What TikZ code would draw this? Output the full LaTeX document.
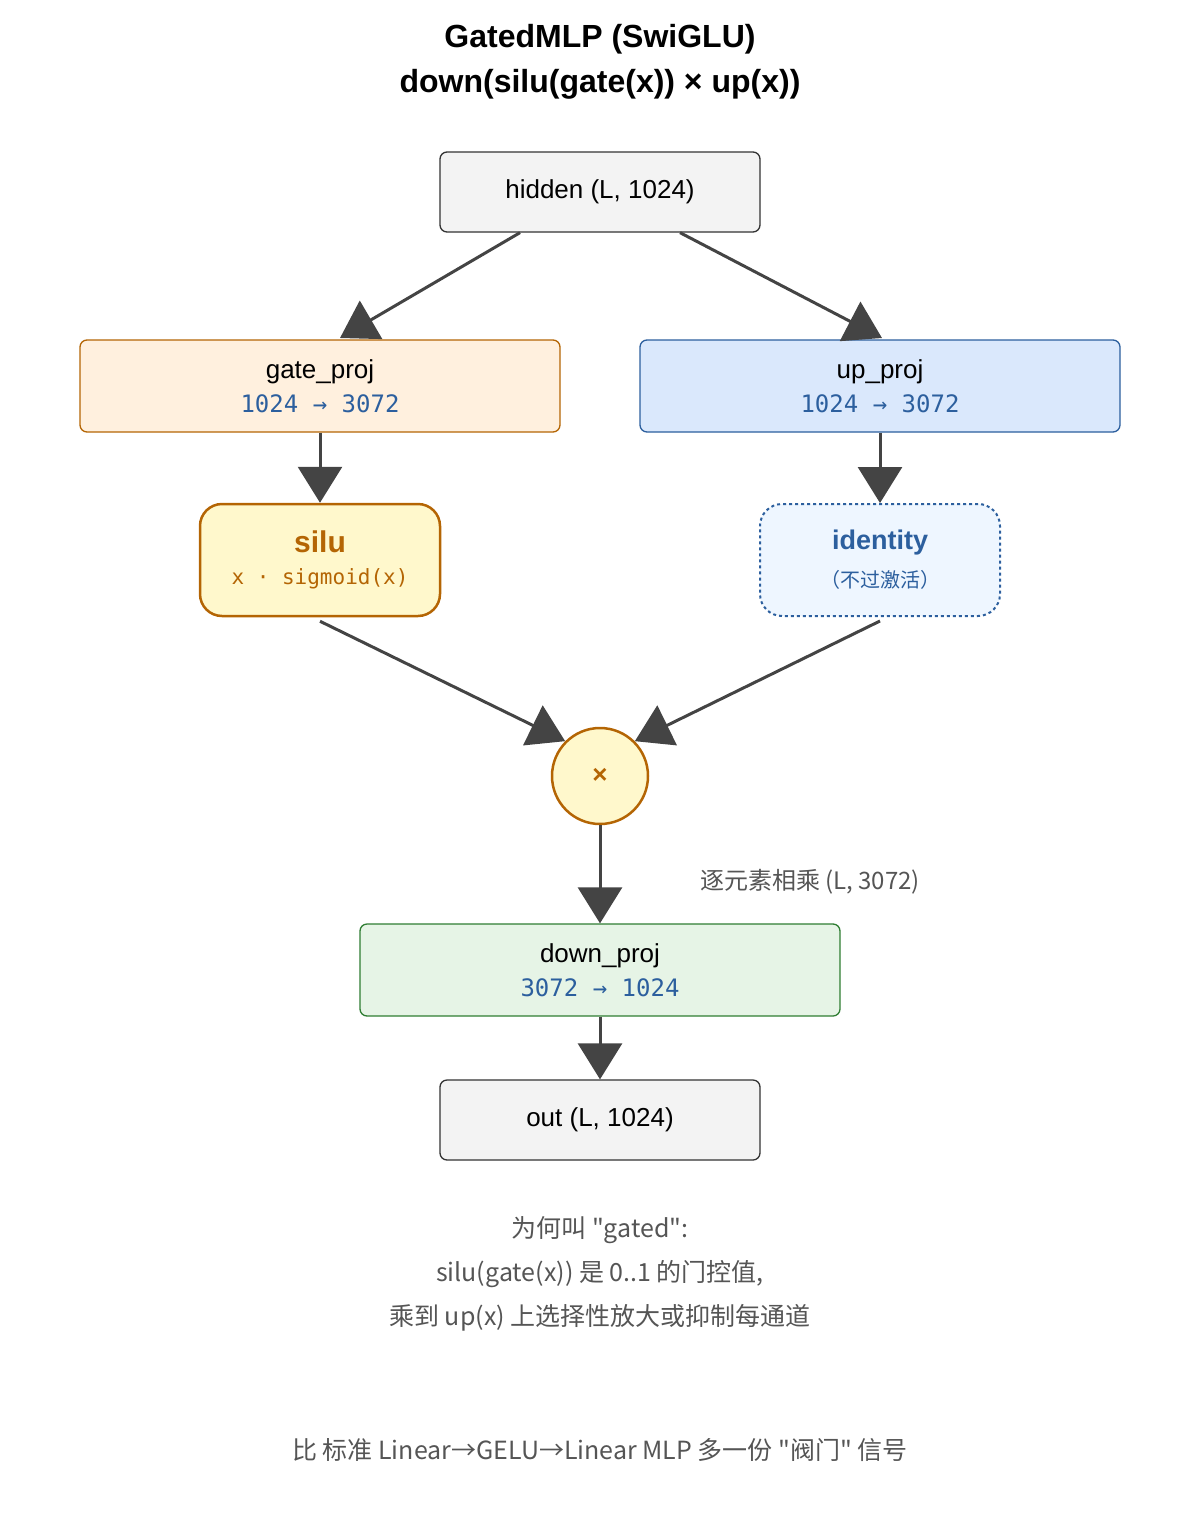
\documentclass[tikz,border=0pt]{standalone}
\usepackage{fontspec}
\setmainfont{Liberation Sans}
\setmonofont{DejaVu Sans Mono}
\newfontfamily\cjk{Noto Sans CJK SC}
\usetikzlibrary{arrows.meta,positioning}
\definecolor{edgegray}{HTML}{444444}
\definecolor{grayfill}{HTML}{F3F3F3}
\definecolor{orangefill}{HTML}{FFF0DE}
\definecolor{orangeline}{HTML}{B46504}
\definecolor{bluefill}{HTML}{DAE8FC}
\definecolor{blueline}{HTML}{2C5F9E}
\definecolor{yellowfill}{HTML}{FFF8CC}
\definecolor{idfill}{HTML}{EEF6FF}
\definecolor{greenfill}{HTML}{E6F4E6}
\definecolor{greenline}{HTML}{2E7D32}
\definecolor{notegray}{HTML}{555555}

\begin{document}
\begin{tikzpicture}%
        [x=1pt, y=-1pt,
        box/.style={draw, rounded corners=7pt, line width=1.3pt, align=center, inner sep=0pt},
        flow/.style={draw=edgegray, line width=3pt, -{Triangle[length=36pt,width=44pt]}},
        note/.style={font=\cjk\fontsize{25}{44}\selectfont, text=notegray, align=center}]

    %% Page frame
    \useasboundingbox (0,0) rectangle (1200,1520);
    %% Title
    \node[font=\bfseries\fontsize{32}{45}\selectfont, align=center] (title) at (600,62)
        {GatedMLP (SwiGLU)\\down(silu(gate(x)) × up(x))};
    %%
    %% Boxes
    %%
    \node[box, fill=grayfill, draw=black!80, minimum width=320pt, minimum height=80pt,
        font=\fontsize{26}{30}\selectfont] (hidden) at (600,192) {hidden (L, 1024)};
    \node[box, fill=orangefill, draw=orangeline, minimum width=480pt, minimum height=92pt,
        font=\fontsize{26}{36}\selectfont] (gate) at (320,386)
        {gate\_proj\\[-2pt]{\ttfamily\fontsize{24}{28}\selectfont\color{blueline}1024 → 3072}};
    \node[box, fill=bluefill, draw=blueline, minimum width=480pt, minimum height=92pt,
        font=\fontsize{26}{36}\selectfont] (up) at (880,386)
        {up\_proj\\[-2pt]{\ttfamily\fontsize{24}{28}\selectfont\color{blueline}1024 → 3072}};
    \node[box, fill=yellowfill, draw=orangeline, line width=2.5pt, rounded corners=22pt,
        minimum width=240pt, minimum height=112pt] (silu) at (320,560)
        {{\bfseries\fontsize{30}{34}\selectfont\color{orangeline}silu}\\[14pt]
         {\ttfamily\fontsize{21}{24}\selectfont\color{orangeline}x · sigmoid(x)}};
    \node[box, fill=idfill, draw=blueline, dashed, line width=2pt, rounded corners=22pt,
        minimum width=240pt, minimum height=112pt] (identity) at (880,560)
        {{\bfseries\fontsize{27}{30}\selectfont\color{blueline}identity}\\[14pt]
         {\cjk\fontsize{20}{24}\selectfont\color{blueline}（不过激活）}};
    \node[circle, draw=orangeline, fill=yellowfill, line width=2.5pt, minimum size=96pt,
        inner sep=0pt, font=\bfseries\fontsize{26}{30}\selectfont, text=orangeline] (mul) at (600,776) {×};
    \node[box, fill=greenfill, draw=greenline, minimum width=480pt, minimum height=92pt,
        font=\fontsize{26}{36}\selectfont] (down) at (600,970)
        {down\_proj\\[-2pt]{\ttfamily\fontsize{24}{28}\selectfont\color{blueline}3072 → 1024}};
    \node[box, fill=grayfill, draw=black!80, minimum width=320pt, minimum height=80pt,
        font=\fontsize{26}{30}\selectfont] (out) at (600,1120) {out (L, 1024)};
    %%
    %% Connectors
    %%
    \coordinate (gatein) at (340,338);
    \coordinate (upin) at (882,338);
    \draw[flow] (hidden.south -| 520,0) -- (gatein);
    \draw[flow] (hidden.south -| 680,0) -- (upin);
    \draw[flow] (gate) -- (silu);
    \draw[flow] (up) -- (identity);
    \draw[flow] (silu.south) ++(0,4) -- (mul.north west);
    \draw[flow] (identity.south) ++(0,4) -- (mul.north east);
    \draw[flow] (mul) -- (down);
    \draw[flow] (down) -- (out);
    \node[note, font=\cjk\fontsize{24}{28}\selectfont] (mullabel) at (810,882) {逐元素相乘 (L, 3072)};
    %%
    %% Notes
    %%
    \node[note] (why) at (600,1274)
        {为何叫 "gated":\\silu(gate(x)) 是 0..1 的门控值,\\乘到 up(x) 上选择性放大或抑制每通道};
    \node[note] (compare) at (600,1450) {比 标准 Linear→GELU→Linear MLP 多一份 "阀门" 信号};
    %%
\end{tikzpicture}
\end{document}
